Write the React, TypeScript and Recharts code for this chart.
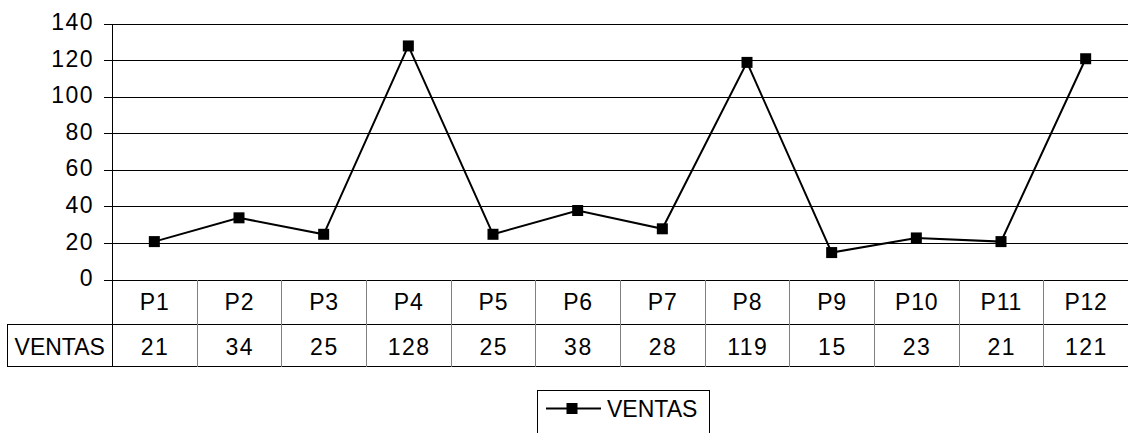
import React from 'react';
import { ComposedChart, Line, XAxis, YAxis, CartesianGrid, Legend } from 'recharts';

const categories = ['P1', 'P2', 'P3', 'P4', 'P5', 'P6', 'P7', 'P8', 'P9', 'P10', 'P11', 'P12'];
const ventas = [21, 34, 25, 128, 25, 38, 28, 119, 15, 23, 21, 121];
const yTicks = [0, 20, 40, 60, 80, 100, 120, 140];
const seriesName = 'VENTAS';

const data = categories.map((c, i) => ({ name: c, [seriesName]: ventas[i] }));

const W = 1128;
const H = 433;
const Y_AXIS_W = 112;
const X_AXIS_H = 86;
const ROW1_H = 44;
const margin = { top: 24, right: 0, left: 0, bottom: 67 };
const PLOT_W = W - Y_AXIS_W - margin.left - margin.right;
const BAND = PLOT_W / categories.length;
const FONT = '"Liberation Sans", Arial, Helvetica, sans-serif';
const FS = 23;

const textStyle = { fontFamily: FONT, fontSize: FS, fill: '#000' };
const numStyle = { ...textStyle, letterSpacing: 1.5 };
const catStyle = { ...textStyle, letterSpacing: 0.8 };

const YTick = (props: any) => {
  const { x, y, payload } = props;
  return (
    <text x={x} y={y - 2} textAnchor="end" dy="0.355em" style={numStyle}>
      {payload.value}
    </text>
  );
};

const TableTick = (props: any) => {
  const { x, y, payload } = props;
  const idx = categories.indexOf(payload.value);
  const left = x - BAND / 2;
  const r1 = y + ROW1_H;
  const r2 = y + X_AXIS_H;
  const tableLeft = 7.5;
  return (
    <g>
      {idx === 0 && (
        <g>
          <line x1={tableLeft} x2={W} y1={r1 + 0.5} y2={r1 + 0.5} stroke="#000" strokeWidth={1} />
          <line x1={tableLeft} x2={W} y1={r2 + 0.5} y2={r2 + 0.5} stroke="#000" strokeWidth={1} />
          <line x1={tableLeft} x2={tableLeft} y1={r1} y2={r2 + 1} stroke="#000" strokeWidth={1} />
          <line x1={Math.round(left) + 0.5} x2={Math.round(left) + 0.5} y1={y} y2={r2 + 1} stroke="#000" strokeWidth={1} />
          <text x={(tableLeft + left) / 2} y={(r1 + r2) / 2 + 1.5} textAnchor="middle" dy="0.355em" style={textStyle}>
            {seriesName}
          </text>
        </g>
      )}
      {idx > 0 && (
        <line x1={Math.round(left) + 0.5} x2={Math.round(left) + 0.5} y1={y} y2={r2 + 1} stroke="#808080" strokeWidth={1} />
      )}
      <text x={x + 0.4} y={(y + r1) / 2} textAnchor="middle" dy="0.355em" style={catStyle}>
        {payload.value}
      </text>
      <text x={x + 0.75} y={(r1 + r2) / 2 + 1.5} textAnchor="middle" dy="0.355em" style={numStyle}>
        {ventas[idx]}
      </text>
    </g>
  );
};

const SquareDot = (props: any) => {
  const { cx, cy, index } = props;
  if (cx == null || cy == null) return <g key={`d-${index}`} />;
  return <rect key={`d-${index}`} x={cx - 5.5} y={cy - 5.5} width={11} height={11} fill="#000" />;
};

const LegendBox = () => (
  <svg width={174} height={43} style={{ display: 'block' }}>
    <line x1={0.5} x2={0.5} y1={0} y2={43} stroke="#000" />
    <line x1={172.5} x2={172.5} y1={0} y2={43} stroke="#000" />
    <line x1={0} x2={173} y1={0.5} y2={0.5} stroke="#000" />
    <line x1={9} x2={64} y1={18.5} y2={18.5} stroke="#000" strokeWidth={2} />
    <rect x={29.5} y={13} width={11} height={11} fill="#000" />
    <text x={70} y={18.5} dy="0.355em" style={textStyle}>
      {seriesName}
    </text>
  </svg>
);

export default function App() {
  return (
    <div style={{ position: 'absolute', left: 0, top: 0, width: W, height: H, background: '#fff' }}>
      <ComposedChart width={W} height={H} data={data} margin={margin}>
        <CartesianGrid horizontal={true} vertical={false} stroke="#000" strokeDasharray="" shapeRendering="crispEdges" />
        <XAxis
          dataKey="name"
          scale="band"
          height={X_AXIS_H}
          axisLine={{ stroke: '#000', shapeRendering: 'crispEdges' }}
          tickLine={false}
          tickSize={0}
          tickMargin={0}
          interval={0}
          tick={<TableTick />}
        />
        <YAxis
          width={Y_AXIS_W}
          domain={[0, 140]}
          ticks={yTicks}
          interval={0}
          axisLine={{ stroke: '#000', shapeRendering: 'crispEdges' }}
          tickLine={{ stroke: '#000', shapeRendering: 'crispEdges' }}
          tickSize={8}
          tickMargin={10}
          tick={<YTick />}
        />
        <Line
          dataKey={seriesName}
          stroke="#000"
          strokeWidth={2}
          dot={<SquareDot />}
          activeDot={false}
          isAnimationActive={false}
        />
        <Legend
          layout="horizontal"
          verticalAlign="middle"
          align="center"
          wrapperStyle={{ position: 'absolute', left: 537, top: 390, width: 174, height: 43, margin: 0 }}
          content={() => <LegendBox />}
        />
      </ComposedChart>
    </div>
  );
}
